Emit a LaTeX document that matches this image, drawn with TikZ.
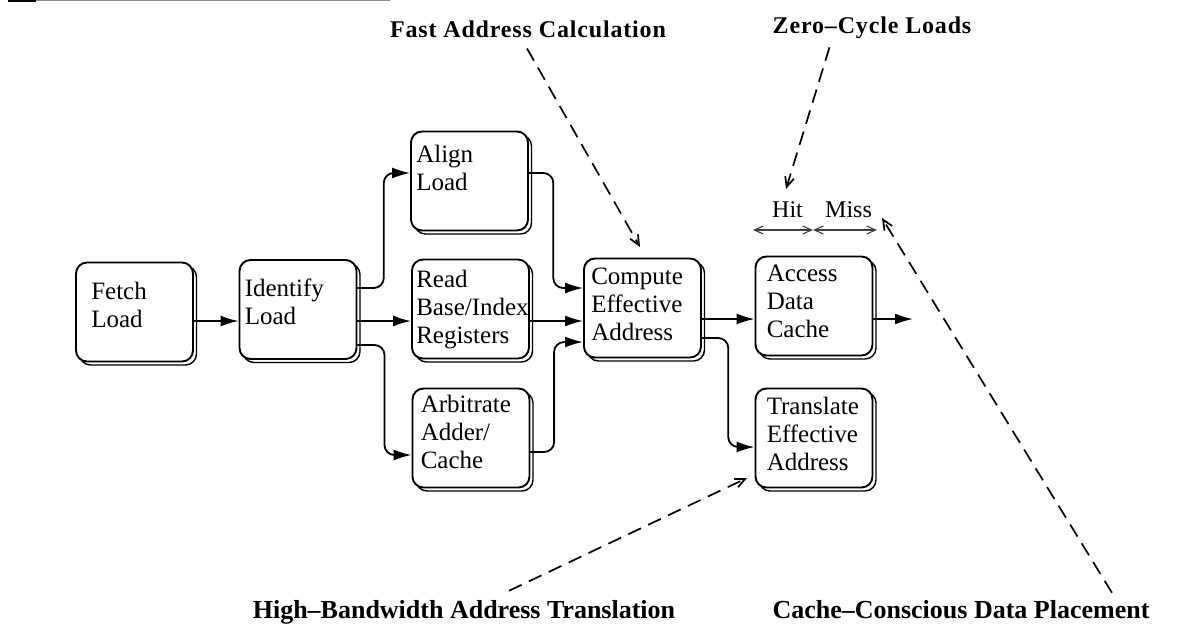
\documentclass[tikz,border=0pt]{standalone}
\usepackage{fontspec}
\setmainfont{Liberation Serif}
\usetikzlibrary{arrows.meta,calc}

\tikzset{
  stage/.style={draw, line width=1.9pt, rounded corners=11pt,
    minimum width=117pt, minimum height=99pt, fill=white, inner sep=0pt},
  stageshadow/.style={stage, line width=1.4pt},
  stagetext/.style={anchor=north west, inner sep=0pt, align=left,
    font=\fontsize{25}{28}\selectfont},
  conn/.style={line width=1.8pt, rounded corners=10pt,
    -{Latex[length=18pt,width=11pt]}},
  note/.style={line width=1.7pt, dash pattern=on 14pt off 8pt,
    -{Straight Barb[length=10pt,width=9pt]}},
  span/.style={line width=1.1pt, black!75,
    {Straight Barb[length=9pt,width=8pt]}-{Straight Barb[length=9pt,width=8pt]}},
  title/.style={font=\bfseries\fontsize{24}{24}\selectfont\addfontfeatures{LetterSpace=3.5},
    inner sep=1pt, anchor=base},
  titlebig/.style={font=\bfseries\fontsize{26}{26}\selectfont, inner sep=1pt, anchor=base},
  hm/.style={font=\fontsize{24}{24}\selectfont, inner sep=0pt, anchor=base west},
}

% a pipeline stage: rounded box with a drop outline and left-aligned text
% #1 name, #2 #3 centre, #4 text, #5 #6 offset of the text from the top-left corner
\newcommand\stagebox[6]{%
  \node[stageshadow] (#1-shadow) at (#2+3.5,#3+3.5) {};
  \node[stage] (#1) at (#2,#3) {};
  \node[stagetext] (#1-txt) at ($(#1.north west)+(#5,#6)$) {#4};
}

\begin{document}
\begin{tikzpicture}[x=1pt,y=-1pt]
\useasboundingbox (0,0) rectangle (1189,641);

% page edge left over at the top
\draw[line width=2pt] (8,1) -- (36,1);
\draw[line width=0.8pt, black!45] (36,0.6) -- (390,0.6);

% stages
\stagebox{fetch}{134.5}{312}{Fetch\\Load}{16}{20}
\stagebox{ident}{298}{309.5}{Identify\\Load}{6}{20}
\stagebox{align}{469.5}{181}{Align\\Load}{6}{14}
\stagebox{read}{470.5}{309}{Read\\Base/Index\\Registers}{5}{11}
\stagebox{arb}{471}{438}{Arbitrate\\Adder/\\Cache}{9}{7}
\stagebox{comp}{642.5}{308}{Compute\\Effective\\Address}{8}{10}
\stagebox{access}{814}{306}{Access\\Data\\Cache}{12}{9}
\stagebox{trans}{814}{438}{Translate\\Effective\\Address}{12}{9}

% connectors
\draw[conn] (fetch.east |- 0,321) -- (ident.west |- 0,321);
\draw[conn] (ident.east |- 0,288) -| ($(ident.east)!.5!(align.west)$) |- (align.west |- 0,173);
\draw[conn] (ident.east |- 0,321) -- (read.west |- 0,321);
\draw[conn] (ident.east |- 0,345) -| ($(ident.east)!.5!(arb.west)$) |- (arb.west |- 0,455);
\draw[conn] (align.east |- 0,173) -| ($(align.east)!.45!(comp.west)$) |- (comp.west |- 0,288);
\draw[conn] (read.east |- 0,321) -- (comp.west |- 0,321);
\draw[conn] (arb.east |- 0,452) -| ($(arb.east)!.45!(comp.west)$) |- (comp.west |- 0,342);
\draw[conn] (comp.east |- 0,319) -- (access.west |- 0,319);
\draw[conn] (comp.east |- 0,338) -| ($(comp.east)!.5!(trans.west)$) |- (trans.west |- 0,447);
\coordinate (out) at (913,319);
\draw[conn] (access.east |- 0,319) -- (out);

% hit / miss
\node[hm] (hit) at (772,217) {Hit};
\node[hm] (miss) at (825,217) {Miss};
\coordinate (hm-a) at (753,230);
\coordinate (hm-b) at (813,230);
\coordinate (hm-c) at (877,230);
\draw[span] (hm-a) -- (hm-b);
\draw[span] (hm-b) -- (hm-c);

% annotations
\node[title] (fast) at (528,37) {Fast Address Calculation};
\node[title] (zero) at (872,33) {Zero--Cycle Loads};
\node[titlebig] (hbat) at (464,618) {High--Bandwidth Address Translation};
\node[titlebig] (ccdp) at (961,618) {Cache--Conscious Data Placement};

\coordinate (fast-tip) at (640,247);
\coordinate (zero-tip) at (786,189);
\coordinate (hbat-tip) at (747,478);
\coordinate (ccdp-tip) at (882,218);
\draw[note] ($(fast.south)+(-1,10)$) -- (fast-tip);
\draw[note] ($(zero.south west)+(58,8)$) -- (zero-tip);
\draw[note] ($(hbat.north)+(45,-8)$) -- (hbat-tip);
\draw[note] ($(ccdp.north)+(151,-6)$) -- (ccdp-tip);
\end{tikzpicture}
\end{document}
